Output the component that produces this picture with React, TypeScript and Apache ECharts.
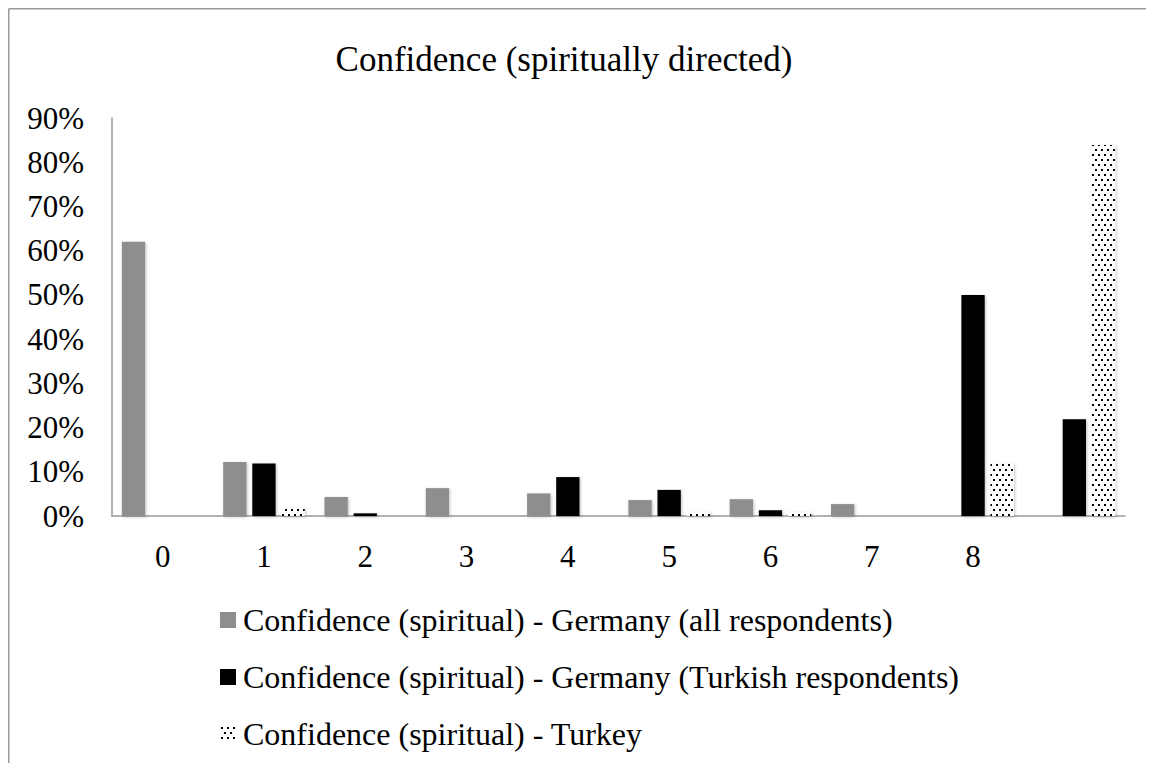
import React, { useEffect, useRef } from "react";
import * as echarts from "echarts";

const categories = ["0", "1", "2", "3", "4", "5", "6", "7", "8", ""];
const germanyAll = [62, 12.2, 4.3, 6.3, 5.1, 3.6, 3.8, 2.7, 0, 0];
const germanyTurkish = [0, 11.9, 0.6, 0, 8.8, 5.9, 1.3, 0, 50, 21.9];
const turkey = [0, 1.8, 0, 0, 0, 1, 0.9, 0, 11.9, 83.9];
const seriesNames = [
  "Confidence (spiritual) - Germany (all respondents)",
  "Confidence (spiritual) - Germany (Turkish respondents)",
  "Confidence (spiritual) - Turkey",
];
const titleText = "Confidence (spiritually directed)";

const FONT = '"Liberation Serif", "Times New Roman", serif';

function makeDotPattern(): HTMLCanvasElement {
  const c = document.createElement("canvas");
  c.width = 6;
  c.height = 10;
  const ctx = c.getContext("2d")!;
  ctx.fillStyle = "#ffffff";
  ctx.fillRect(0, 0, 6, 10);
  ctx.fillStyle = "#000000";
  ctx.fillRect(1, 1, 2, 2);
  ctx.fillRect(4, 6, 2, 2);
  return c;
}

export default function App() {
  const ref = useRef<HTMLDivElement>(null);
  useEffect(() => {
    if (!ref.current) return;
    const chart = echarts.init(ref.current, undefined, { renderer: "svg" });
    const pattern = makeDotPattern();
    const shadow = {
      shadowBlur: 3,
      shadowColor: "rgba(0,0,0,0.25)",
      shadowOffsetX: 1,
      shadowOffsetY: 1,
    };
    chart.setOption({
      animation: false,
      backgroundColor: "#ffffff",
      textStyle: { fontFamily: FONT },
      title: {
        text: titleText,
        left: 556,
        textAlign: "center",
        top: 34,
        padding: 0,
        textStyle: { fontFamily: FONT, fontSize: 35, fontWeight: "normal", color: "#000" },
      },
      graphic: [
        { type: "line", shape: { x1: 0.75, y1: 0.75, x2: 1146, y2: 0.75 }, style: { stroke: "#999", lineWidth: 1.5 } },
        { type: "line", shape: { x1: 0.75, y1: 0.75, x2: 0.75, y2: 755 }, style: { stroke: "#999", lineWidth: 1.5 } },
      ],
      grid: { left: 104, right: 29, top: 110, bottom: 247, containLabel: false },
      legend: {
        orient: "vertical",
        left: 212,
        top: 594,
        itemWidth: 16,
        itemHeight: 16,
        itemGap: 21,
        icon: "rect",
        padding: 0,
        textStyle: { fontFamily: FONT, fontSize: 32, color: "#000", lineHeight: 36, padding: [0, 0, 0, 2] },
        data: seriesNames,
      },
      xAxis: {
        type: "category",
        data: categories,
        axisLine: { show: true, lineStyle: { color: "#999", width: 1.5 } },
        axisTick: { show: false },
        axisLabel: { fontFamily: FONT, fontSize: 31, color: "#000", margin: 25 },
      },
      yAxis: {
        type: "value",
        min: 0,
        max: 90,
        interval: 10,
        axisLine: { show: true, lineStyle: { color: "#999", width: 1.5 } },
        axisTick: { show: false },
        splitLine: { show: false },
        axisLabel: { fontFamily: FONT, fontSize: 31, color: "#000", margin: 28, formatter: "{value}%" },
      },
      series: [
        {
          name: seriesNames[0],
          type: "bar",
          data: germanyAll,
          barWidth: "23%",
          barGap: "25%",
          itemStyle: { color: "#8e8e8e", ...shadow },
        },
        {
          name: seriesNames[1],
          type: "bar",
          data: germanyTurkish,
          barWidth: "23%",
          barGap: "25%",
          itemStyle: { color: "#000000", ...shadow },
        },
        {
          name: seriesNames[2],
          type: "bar",
          data: turkey,
          barWidth: "23%",
          barGap: "25%",
          itemStyle: { color: { image: pattern, repeat: "repeat" }, ...shadow },
        },
      ],
    });
    return () => chart.dispose();
  }, []);
  return <div ref={ref} style={{ width: 1146, height: 755 }} />;
}
